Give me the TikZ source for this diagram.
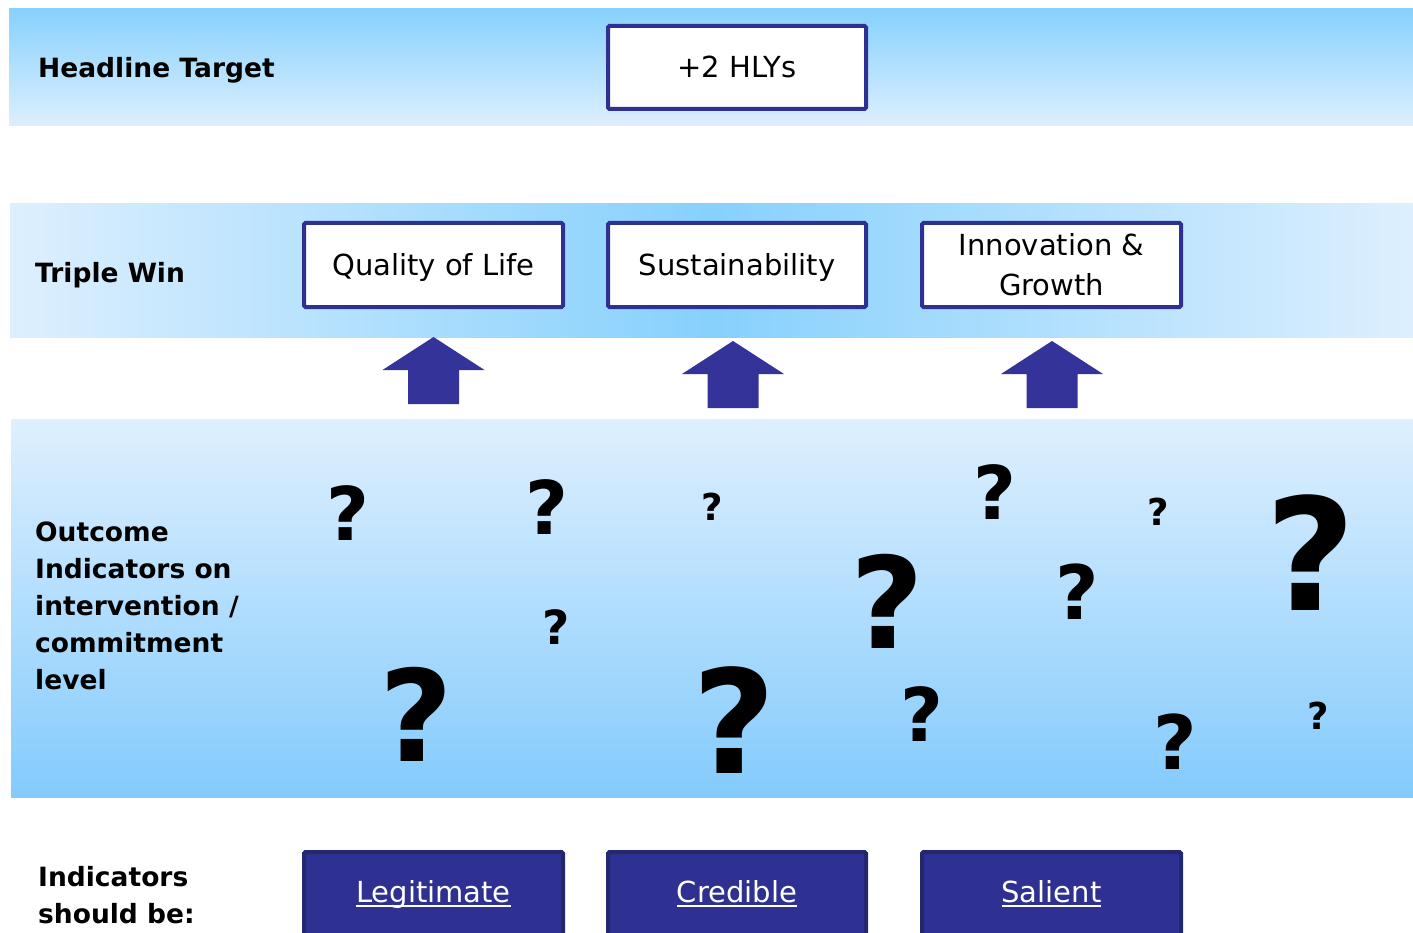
\documentclass[tikz,border=0pt]{standalone}
\usepackage{fontspec}
\setmainfont{DejaVu Sans}
\definecolor{navy}{HTML}{2E3192}
\definecolor{navyedge}{HTML}{23286E}
\definecolor{arrblue}{HTML}{333399}
\definecolor{skydark}{RGB}{135,209,253}
\definecolor{skylight}{RGB}{221,239,254}
\newcommand\qsz[1]{\fontsize{#1}{#1}\selectfont\bfseries}
\newcommand\myul[1]{\setbox0\hbox{#1}\rlap{\rule[-4.5pt]{\wd0}{1.8pt}}\box0}
\newcommand\blockarrowup[2]{\fill[arrblue] (#1,#2) -- ++(51,33) -- ++(-25.5,0) -- ++(0,34) -- ++(-51,0) -- ++(0,-34) -- ++(-25.5,0) -- cycle;}
\tikzset{
  wbox/.style={draw=navy, line width=4pt, fill=white, rounded corners=1.5pt, inner sep=0pt,
    align=center, font=\fontsize{29}{40}\selectfont},
  oneline/.style={text height=24pt, text depth=3pt},
  nbox/.style={draw=navyedge, line width=4pt, fill=navy, rounded corners=1.5pt, inner sep=0pt,
    text=white, font=\fontsize{29}{34}\selectfont},
  lbl/.style={anchor=west, inner sep=0pt, align=left, font=\fontsize{26.5}{37}\selectfont\bfseries},
  qm/.style={inner sep=0pt}
}
\begin{document}
\begin{tikzpicture}[x=1pt,y=-1pt]
\clip (0,0) rectangle (1413,933);
\fill[white] (0,0) rectangle (1413,933);
% bands
\shade[top color=skydark, bottom color=skylight] (9,9) rectangle (1413,126);
\shade[left color=skylight, right color=skylight, middle color=skydark] (10,204) rectangle (1413,337);
\shade[top color=skylight!95!white, bottom color=skydark!97!blue] (11,419) rectangle (1413,797);
% labels
\node[lbl] (lhead) at (38,70) {Headline Target};
\node[lbl] (ltriple) at (35,275) {Triple Win};
\node[lbl] (lout) at (35,606) {Outcome\\Indicators on\\intervention /\\commitment\\level};
\node[lbl] (lind) at (38,895) {Indicators\\should be:};
% boxes
\node[wbox, oneline, minimum width=258pt, minimum height=83pt] (hly) at (737,67.5) {+2 HLYs};
\node[wbox, oneline, minimum width=259pt, minimum height=84pt] (qol) at (433.5,265) {Quality of Life};
\node[wbox, oneline, minimum width=258pt, minimum height=84pt] (sus) at (737,265) {Sustainability};
\node[wbox, minimum width=259pt, minimum height=84pt] (inn) at (1051.5,265) {Innovation \&\\Growth};
\node[nbox, minimum width=259pt, minimum height=84pt] (leg) at (433.5,894) {\myul{Legitimate}};
\node[nbox, minimum width=258pt, minimum height=84pt] (cre) at (737,894) {\myul{Credible}};
\node[nbox, minimum width=259pt, minimum height=84pt] (sal) at (1051.5,894) {\myul{Salient}};
% arrows
\blockarrowup{433.5}{337}
\blockarrowup{733}{341}
\blockarrowup{1052}{341}
% question marks
\node[qm, font=\qsz{74}] (q1) at (348,513) {?};
\node[qm, font=\qsz{74}] (q2) at (547,507) {?};
\node[qm, font=\qsz{37}] (q3) at (712,507) {?};
\node[qm, font=\qsz{74}] (q4) at (995,492) {?};
\node[qm, font=\qsz{37}] (q5) at (1158,512) {?};
\node[qm, font=\qsz{156}] (q6) at (1311,553) {?};
\node[qm, font=\qsz{127}] (q7) at (887,601) {?};
\node[qm, font=\qsz{75}] (q8) at (1077,592) {?};
\node[qm, font=\qsz{47}] (q9) at (556,627) {?};
\node[qm, font=\qsz{127}] (q10) at (416,714) {?};
\node[qm, font=\qsz{144}] (q11) at (734,720) {?};
\node[qm, font=\qsz{74}] (q12) at (922,714) {?};
\node[qm, font=\qsz{75}] (q13) at (1175,742) {?};
\node[qm, font=\qsz{37}] (q14) at (1318,716) {?};
\end{tikzpicture}
\end{document}
